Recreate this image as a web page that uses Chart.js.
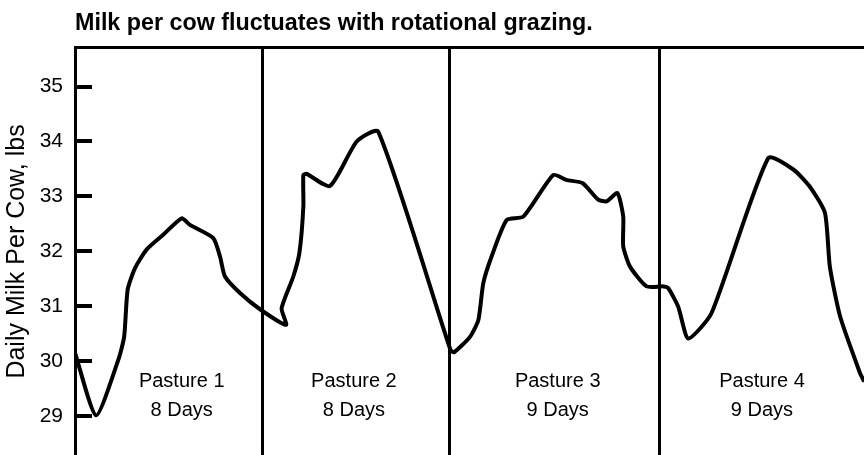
<!DOCTYPE html>
<html>
<head>
<meta charset="utf-8">
<title>Milk per cow</title>
<script src="https://cdn.jsdelivr.net/npm/chart.js@4/dist/chart.umd.min.js"></script>
<style>
  html, body { margin: 0; padding: 0; background: #fff; overflow: hidden; }
  #wrap { position: absolute; left: 0; top: 0; width: 864px; height: 455px; }
</style>
</head>
<body>
<div id="wrap"><canvas id="milkChart" width="864" height="455"></canvas></div>
<script>
// Daily milk per cow (x = day of grazing, y = lbs)
const days = [
  0, 0.9, 1.85, 2.1, 2.25, 2.56, 3.06, 3.77, 4.56, 4.91, 5.91, 6.2, 6.41, 7.05, 7.95, 9.02,
  8.83, 9.33, 9.59, 9.76, 9.76, 9.9, 10.9, 12.04, 12.96, 16.05, 16.2,
  16.88, 17.24, 17.45, 17.8, 18.45, 19.16, 20.44, 21.0, 21.7, 22.36, 22.72, 23.18, 23.43, 23.43, 23.72, 24.43, 25.14,
  25.35, 25.78, 26.21, 27.2, 29.63, 30.7, 31.4, 32.05, 32.26, 32.7, 33.55, 33.7
];
const milk = [
  30.15, 29.01, 30.02, 30.44, 31.3, 31.69, 32.03, 32.3, 32.6, 32.48, 32.24, 31.9, 31.54, 31.24, 30.93, 30.66,
  30.96, 31.54, 31.97, 32.82, 33.39, 33.41, 33.19, 34.0, 34.18, 30.2, 30.16,
  30.44, 30.75, 31.42, 31.9, 32.57, 32.63, 33.39, 33.3, 33.24, 32.94, 32.91, 33.06, 32.63, 32.09, 31.72, 31.36, 31.36,
  31.33, 30.99, 30.41, 30.87, 33.7, 33.49, 33.18, 32.7, 31.72, 30.81, 29.78, 29.65
];

// pasture moves (day boundaries) and their labels
const pastureMoves = [8, 16, 25];
const pastureNames = ["Pasture 1", "Pasture 2", "Pasture 3", "Pasture 4"];
const pastureDays = ["8 Days", "8 Days", "9 Days", "9 Days"];
const labelDay = [4.56, 11.92, 20.63, 29.36];
const labelLevels = [29.62, 29.09];

const yTicks = [29, 30, 31, 32, 33, 34, 35];

// üìè draws short tick marks on the inside of the y axis + pasture labels
const innerStuff = {
  id: "innerStuff",
  afterDatasetsDraw(chart) {
    const ctx = chart.ctx;
    const x = chart.scales.x;
    const y = chart.scales.y;
    const left = chart.chartArea.left;

    ctx.save();
    ctx.strokeStyle = "#000";
    ctx.lineWidth = 4;
    yTicks.forEach(v => {
      const py = Math.round(y.getPixelForValue(v));
      ctx.beginPath();
      ctx.moveTo(left, py);
      ctx.lineTo(left + 17, py);
      ctx.stroke();
    });

    ctx.fillStyle = "#000";
    ctx.font = "20px 'Liberation Sans', Arial, sans-serif";
    ctx.textAlign = "center";
    ctx.textBaseline = "middle";
    pastureNames.forEach((name, i) => {
      const px = x.getPixelForValue(labelDay[i]);
      ctx.fillText(name, px, y.getPixelForValue(labelLevels[0]));
      ctx.fillText(pastureDays[i], px, y.getPixelForValue(labelLevels[1]));
    });
    ctx.restore();
  }
};

const ctx = document.getElementById("milkChart").getContext("2d");
new Chart(ctx, {
  type: "line",
  data: {
    datasets: [{
      data: days.map((d, i) => ({ x: d, y: milk[i] })),
      borderColor: "#000",
      borderWidth: 4,
      borderJoinStyle: "round",
      borderCapStyle: "round",
      pointRadius: 0,
      tension: 0.2,
      fill: false
    }]
  },
  options: {
    responsive: false,
    animation: false,
    layout: { padding: 0 },
    plugins: {
      legend: { display: false },
      tooltip: { enabled: false },
      title: {
        display: true,
        text: "Milk per cow fluctuates with rotational grazing.",
        align: "start",
        fullSize: false,
        color: "#000",
        font: { family: "'Liberation Sans', Arial, sans-serif", size: 23.3, weight: "bold" },
        padding: { top: 10, bottom: 10 }
      }
    },
    scales: {
      x: {
        type: "linear",
        position: "top",
        min: 0,
        max: 33.72,
        afterBuildTicks: scale => { scale.ticks = pastureMoves.map(v => ({ value: v })); },
        ticks: { display: false },
        grid: { color: "#000", lineWidth: 3, drawTicks: false },
        border: { display: true, color: "#000", width: 3 }
      },
      y: {
        min: 28.288,
        max: 35.704,
        afterBuildTicks: scale => { scale.ticks = yTicks.map(v => ({ value: v })); },
        afterFit: scale => {
          scale.width = 75;
          scale.paddingTop = 0;
          scale.paddingBottom = 0;
        },
        ticks: {
          color: "#000",
          padding: 12,
          font: { family: "'Liberation Sans', Arial, sans-serif", size: 21 }
        },
        grid: { display: false, drawTicks: false },
        border: { display: true, color: "#000", width: 3 },
        title: {
          display: true,
          text: "Daily Milk Per Cow, lbs",
          color: "#000",
          font: { family: "'Liberation Sans', Arial, sans-serif", size: 25 },
          padding: { top: 2, bottom: 4 }
        }
      }
    }
  },
  plugins: [innerStuff]
});
</script>
</body>
</html>
